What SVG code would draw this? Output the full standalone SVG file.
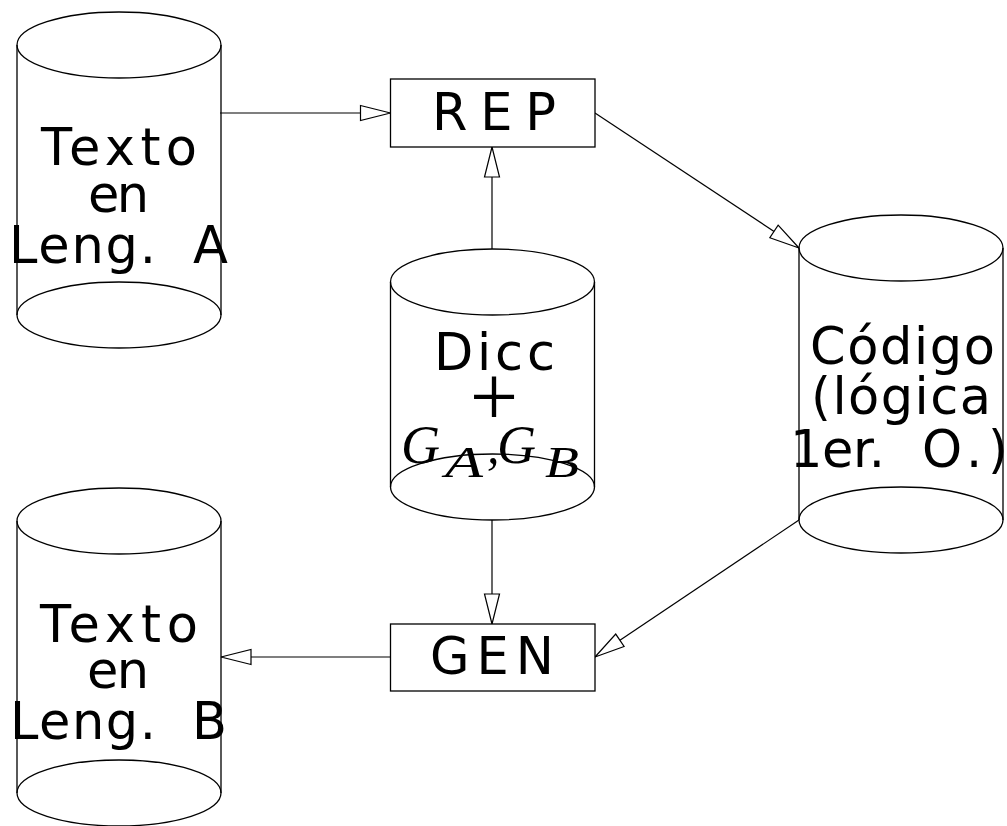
<svg xmlns="http://www.w3.org/2000/svg" width="1007" height="826" viewBox="0 0 1007 826">
<style>
.shape{fill:none;stroke:#000;stroke-width:1.3}
.box{fill:#fff;stroke:#000;stroke-width:1.3}
.lbl{font-family:"DejaVu Sans",sans-serif;font-size:51px;fill:#000;text-anchor:middle}
.lbs{font-family:"DejaVu Sans",sans-serif;font-size:51px;fill:#000;text-anchor:start}
.math{font-family:"Liberation Serif",serif;font-style:italic;fill:#000}
.conn{fill:none;stroke:#000;stroke-width:1.2;marker-end:url(#arr)}
</style>
<defs>
<marker id="arr" markerUnits="userSpaceOnUse" markerWidth="34" markerHeight="19" viewBox="-2 -2 34 19" refX="30" refY="7.5" orient="auto">
<path d="M0,0 L30,7.5 L0,15 Z" fill="#fff" stroke="#000" stroke-width="1.2"/>
</marker>
</defs>
<rect width="1007" height="826" fill="#fff"/>
<g id="connectors">
<path class="conn" d="M220,113 L390.5,113"/>
<path class="conn" d="M492,249 L492,147"/>
<path class="conn" d="M595,113 L799,248"/>
<path class="conn" d="M799,520 L595,657"/>
<path class="conn" d="M492,520 L492,624"/>
<path class="conn" d="M390.5,657 L221,657"/>
</g>
<g id="textoA">
<ellipse class="shape" cx="119" cy="45" rx="102" ry="33"/>
<path class="shape" d="M17,45 V315 M221,45 V315"/>
<ellipse class="shape" cx="119" cy="315" rx="102" ry="33"/>
<text class="lbl" x="119" y="165" textLength="156" lengthAdjust="spacing">Texto</text>
<text class="lbl" x="118.5" y="212" textLength="61" lengthAdjust="spacing">en</text>
<text class="lbs" y="263"><tspan x="9" textLength="147" lengthAdjust="spacing">Leng.</tspan> <tspan x="193">A</tspan></text>
</g>
<g id="rep">
<rect class="box" x="390.5" y="79" width="204.5" height="68"/>
<text class="lbl" x="494" y="130" textLength="124" lengthAdjust="spacing">REP</text>
</g>
<g id="dicc">
<ellipse class="shape" cx="492.5" cy="282" rx="102" ry="33"/>
<path class="shape" d="M390.5,282 V487 M594.5,282 V487"/>
<ellipse class="shape" cx="492.5" cy="487" rx="102" ry="33"/>
<text class="lbl" x="494.5" y="370" textLength="121" lengthAdjust="spacing">Dicc</text>
<text x="494" y="426" font-family="Liberation Serif,serif" font-size="86" text-anchor="middle">+</text>
<text class="math" x="401" y="463" font-size="54">G</text>
<text class="math" x="445" y="477" font-size="44" textLength="38" lengthAdjust="spacingAndGlyphs">A</text>
<text class="math" x="487" y="463" font-size="50">,</text>
<text class="math" x="497" y="463" font-size="54">G</text>
<text class="math" x="545" y="477" font-size="44" textLength="34" lengthAdjust="spacingAndGlyphs">B</text>
</g>
<g id="codigo">
<ellipse class="shape" cx="901" cy="248" rx="102" ry="33"/>
<path class="shape" d="M799,248 V520 M1003,248 V520"/>
<ellipse class="shape" cx="901" cy="520" rx="102" ry="33"/>
<text class="lbl" x="902.5" y="364" textLength="185" lengthAdjust="spacing">Código</text>
<text class="lbl" x="901" y="414" textLength="180" lengthAdjust="spacing">(lógica</text>
<text class="lbs" y="467"><tspan x="790" textLength="95" lengthAdjust="spacing">1er.</tspan> <tspan x="922" textLength="86" lengthAdjust="spacing">O.)</tspan></text>
</g>
<g id="gen">
<rect class="box" x="390.5" y="624" width="204.5" height="67"/>
<text class="lbl" x="492" y="674" textLength="124" lengthAdjust="spacing">GEN</text>
</g>
<g id="textoB">
<ellipse class="shape" cx="119" cy="521" rx="102" ry="33"/>
<path class="shape" d="M17,521 V793 M221,521 V793"/>
<ellipse class="shape" cx="119" cy="793" rx="102" ry="33"/>
<text class="lbl" x="119" y="642" textLength="158" lengthAdjust="spacing">Texto</text>
<text class="lbl" x="118" y="688" textLength="62" lengthAdjust="spacing">en</text>
<text class="lbs" y="739"><tspan x="10" textLength="146" lengthAdjust="spacing">Leng.</tspan> <tspan x="192">B</tspan></text>
</g>
</svg>
